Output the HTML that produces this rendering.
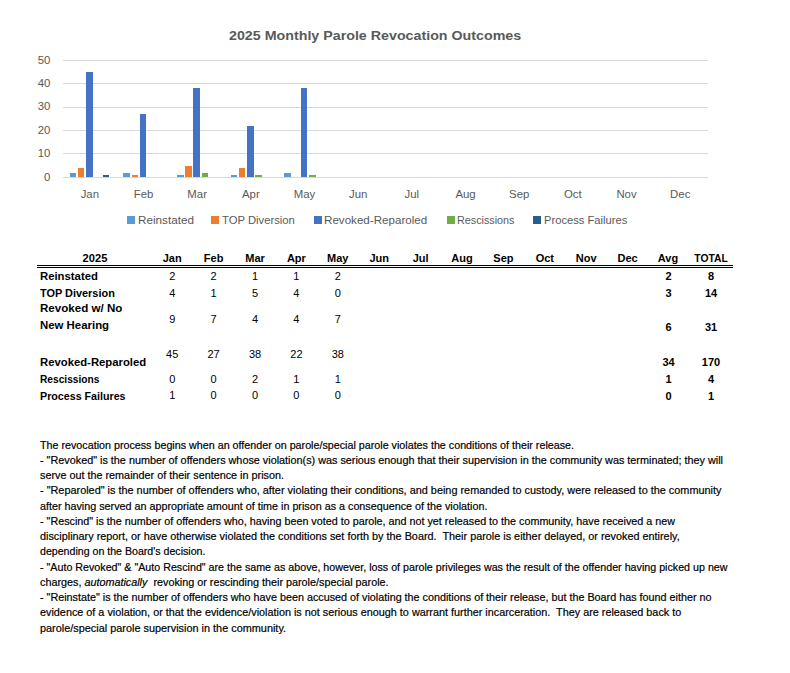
<!DOCTYPE html>
<html><head><meta charset="utf-8"><style>
html,body{margin:0;padding:0;background:#fff;}
body{width:790px;height:673px;position:relative;overflow:hidden;font-family:"Liberation Sans",sans-serif;}
.t{position:absolute;white-space:pre;}
.p{-webkit-text-stroke:0.2px #000;}
.g{position:absolute;height:1px;background:#d9d9d9;}
.b{position:absolute;}
.sq{position:absolute;width:8px;height:8px;}
</style></head><body>

<div class="g" style="left:63px;top:177px;width:645px;"></div>
<div class="g" style="left:63px;top:153px;width:645px;"></div>
<div class="g" style="left:63px;top:130px;width:645px;"></div>
<div class="g" style="left:63px;top:107px;width:645px;"></div>
<div class="g" style="left:63px;top:83px;width:645px;"></div>
<div class="g" style="left:63px;top:60px;width:645px;"></div>
<div class="b" style="left:69.60px;top:172.61px;width:6.6px;height:4.69px;background:#5B9BD5;"></div>
<div class="b" style="left:123.27px;top:172.61px;width:6.6px;height:4.69px;background:#5B9BD5;"></div>
<div class="b" style="left:176.94px;top:174.95px;width:6.6px;height:2.35px;background:#5B9BD5;"></div>
<div class="b" style="left:230.61px;top:174.95px;width:6.6px;height:2.35px;background:#5B9BD5;"></div>
<div class="b" style="left:284.28px;top:172.61px;width:6.6px;height:4.69px;background:#5B9BD5;"></div>
<div class="b" style="left:77.85px;top:167.92px;width:6.6px;height:9.38px;background:#ED7D31;"></div>
<div class="b" style="left:131.52px;top:174.95px;width:6.6px;height:2.35px;background:#ED7D31;"></div>
<div class="b" style="left:185.19px;top:165.57px;width:6.6px;height:11.73px;background:#ED7D31;"></div>
<div class="b" style="left:238.86px;top:167.92px;width:6.6px;height:9.38px;background:#ED7D31;"></div>
<div class="b" style="left:86.10px;top:71.73px;width:6.6px;height:105.57px;background:#4472C4;"></div>
<div class="b" style="left:139.77px;top:113.96px;width:6.6px;height:63.34px;background:#4472C4;"></div>
<div class="b" style="left:193.44px;top:88.15px;width:6.6px;height:89.15px;background:#4472C4;"></div>
<div class="b" style="left:247.11px;top:125.69px;width:6.6px;height:51.61px;background:#4472C4;"></div>
<div class="b" style="left:300.78px;top:88.15px;width:6.6px;height:89.15px;background:#4472C4;"></div>
<div class="b" style="left:201.69px;top:172.61px;width:6.6px;height:4.69px;background:#70AD47;"></div>
<div class="b" style="left:255.36px;top:174.95px;width:6.6px;height:2.35px;background:#70AD47;"></div>
<div class="b" style="left:309.03px;top:174.95px;width:6.6px;height:2.35px;background:#70AD47;"></div>
<div class="b" style="left:102.60px;top:174.95px;width:6.6px;height:2.35px;background:#255E91;"></div>
<div class="sq" style="left:127px;top:216px;background:#5B9BD5;"></div>
<div class="sq" style="left:211px;top:216px;background:#ED7D31;"></div>
<div class="sq" style="left:314px;top:216px;background:#4472C4;"></div>
<div class="sq" style="left:446.5px;top:216px;background:#70AD47;"></div>
<div class="sq" style="left:533px;top:216px;background:#255E91;"></div>
<div style="position:absolute;left:37px;top:265px;width:696px;height:1px;background:#000"></div>
<div style="position:absolute;left:37px;top:267px;width:696px;height:1px;background:#000"></div>
<div class="t" id="t0" style="left:229.00px;top:29.24px;font-size:13.6px;line-height:13.6px;color:#595959;font-weight:bold;transform:scaleX(1.0482);transform-origin:left top;">2025 Monthly Parole Revocation Outcomes</div>
<div class="t" id="t1" style="right:739.70px;top:171.81px;font-size:11.4px;line-height:11.4px;color:#595959;">0</div>
<div class="t" id="t2" style="right:739.70px;top:148.35px;font-size:11.4px;line-height:11.4px;color:#595959;">10</div>
<div class="t" id="t3" style="right:739.70px;top:124.89px;font-size:11.4px;line-height:11.4px;color:#595959;">20</div>
<div class="t" id="t4" style="right:739.70px;top:101.43px;font-size:11.4px;line-height:11.4px;color:#595959;">30</div>
<div class="t" id="t5" style="right:739.70px;top:77.97px;font-size:11.4px;line-height:11.4px;color:#595959;">40</div>
<div class="t" id="t6" style="right:739.70px;top:54.51px;font-size:11.4px;line-height:11.4px;color:#595959;">50</div>
<div class="t" id="t7" style="left:89.84px;top:189.21px;font-size:11.4px;line-height:11.4px;color:#595959;transform:translateX(-50%) ;transform-origin:50% 0;">Jan</div>
<div class="t" id="t8" style="left:143.50px;top:189.21px;font-size:11.4px;line-height:11.4px;color:#595959;transform:translateX(-50%) ;transform-origin:50% 0;">Feb</div>
<div class="t" id="t9" style="left:197.18px;top:189.21px;font-size:11.4px;line-height:11.4px;color:#595959;transform:translateX(-50%) ;transform-origin:50% 0;">Mar</div>
<div class="t" id="t10" style="left:250.84px;top:189.21px;font-size:11.4px;line-height:11.4px;color:#595959;transform:translateX(-50%) ;transform-origin:50% 0;">Apr</div>
<div class="t" id="t11" style="left:304.51px;top:189.21px;font-size:11.4px;line-height:11.4px;color:#595959;transform:translateX(-50%) ;transform-origin:50% 0;">May</div>
<div class="t" id="t12" style="left:358.19px;top:189.21px;font-size:11.4px;line-height:11.4px;color:#595959;transform:translateX(-50%) ;transform-origin:50% 0;">Jun</div>
<div class="t" id="t13" style="left:411.86px;top:189.21px;font-size:11.4px;line-height:11.4px;color:#595959;transform:translateX(-50%) ;transform-origin:50% 0;">Jul</div>
<div class="t" id="t14" style="left:465.53px;top:189.21px;font-size:11.4px;line-height:11.4px;color:#595959;transform:translateX(-50%) ;transform-origin:50% 0;">Aug</div>
<div class="t" id="t15" style="left:519.19px;top:189.21px;font-size:11.4px;line-height:11.4px;color:#595959;transform:translateX(-50%) ;transform-origin:50% 0;">Sep</div>
<div class="t" id="t16" style="left:572.87px;top:189.21px;font-size:11.4px;line-height:11.4px;color:#595959;transform:translateX(-50%) ;transform-origin:50% 0;">Oct</div>
<div class="t" id="t17" style="left:626.53px;top:189.21px;font-size:11.4px;line-height:11.4px;color:#595959;transform:translateX(-50%) ;transform-origin:50% 0;">Nov</div>
<div class="t" id="t18" style="left:680.21px;top:189.21px;font-size:11.4px;line-height:11.4px;color:#595959;transform:translateX(-50%) ;transform-origin:50% 0;">Dec</div>
<div class="t" id="t19" style="left:137.50px;top:214.61px;font-size:11.4px;line-height:11.4px;color:#595959;transform:scaleX(1.0283);transform-origin:left top;">Reinstated</div>
<div class="t" id="t20" style="left:221.50px;top:214.61px;font-size:11.4px;line-height:11.4px;color:#595959;transform:scaleX(0.9890);transform-origin:left top;">TOP Diversion</div>
<div class="t" id="t21" style="left:324.30px;top:214.61px;font-size:11.4px;line-height:11.4px;color:#595959;transform:scaleX(1.0190);transform-origin:left top;">Revoked-Reparoled</div>
<div class="t" id="t22" style="left:457.00px;top:214.61px;font-size:11.4px;line-height:11.4px;color:#595959;transform:scaleX(0.9450);transform-origin:left top;">Rescissions</div>
<div class="t" id="t23" style="left:543.50px;top:214.61px;font-size:11.4px;line-height:11.4px;color:#595959;transform:scaleX(0.9821);transform-origin:left top;">Process Failures</div>
<div class="t" id="t24" style="left:94.50px;top:252.65px;font-size:11px;line-height:11px;color:#000;font-weight:bold;transform:translateX(-50%) scaleX(1.0120);transform-origin:50% 0;">2025</div>
<div class="t" id="t25" style="left:172.20px;top:252.65px;font-size:11px;line-height:11px;color:#000;font-weight:bold;transform:translateX(-50%) ;transform-origin:50% 0;">Jan</div>
<div class="t" id="t26" style="left:213.60px;top:252.65px;font-size:11px;line-height:11px;color:#000;font-weight:bold;transform:translateX(-50%) ;transform-origin:50% 0;">Feb</div>
<div class="t" id="t27" style="left:255.00px;top:252.65px;font-size:11px;line-height:11px;color:#000;font-weight:bold;transform:translateX(-50%) ;transform-origin:50% 0;">Mar</div>
<div class="t" id="t28" style="left:296.40px;top:252.65px;font-size:11px;line-height:11px;color:#000;font-weight:bold;transform:translateX(-50%) ;transform-origin:50% 0;">Apr</div>
<div class="t" id="t29" style="left:337.80px;top:252.65px;font-size:11px;line-height:11px;color:#000;font-weight:bold;transform:translateX(-50%) ;transform-origin:50% 0;">May</div>
<div class="t" id="t30" style="left:379.20px;top:252.65px;font-size:11px;line-height:11px;color:#000;font-weight:bold;transform:translateX(-50%) ;transform-origin:50% 0;">Jun</div>
<div class="t" id="t31" style="left:420.60px;top:252.65px;font-size:11px;line-height:11px;color:#000;font-weight:bold;transform:translateX(-50%) ;transform-origin:50% 0;">Jul</div>
<div class="t" id="t32" style="left:462.00px;top:252.65px;font-size:11px;line-height:11px;color:#000;font-weight:bold;transform:translateX(-50%) ;transform-origin:50% 0;">Aug</div>
<div class="t" id="t33" style="left:503.40px;top:252.65px;font-size:11px;line-height:11px;color:#000;font-weight:bold;transform:translateX(-50%) ;transform-origin:50% 0;">Sep</div>
<div class="t" id="t34" style="left:544.80px;top:252.65px;font-size:11px;line-height:11px;color:#000;font-weight:bold;transform:translateX(-50%) ;transform-origin:50% 0;">Oct</div>
<div class="t" id="t35" style="left:586.20px;top:252.65px;font-size:11px;line-height:11px;color:#000;font-weight:bold;transform:translateX(-50%) ;transform-origin:50% 0;">Nov</div>
<div class="t" id="t36" style="left:627.60px;top:252.65px;font-size:11px;line-height:11px;color:#000;font-weight:bold;transform:translateX(-50%) ;transform-origin:50% 0;">Dec</div>
<div class="t" id="t37" style="left:668.00px;top:252.65px;font-size:11px;line-height:11px;color:#000;font-weight:bold;transform:translateX(-50%) scaleX(0.9950);transform-origin:50% 0;">Avg</div>
<div class="t" id="t38" style="left:710.80px;top:252.65px;font-size:11px;line-height:11px;color:#000;font-weight:bold;transform:translateX(-50%) scaleX(0.9361);transform-origin:50% 0;">TOTAL</div>
<div class="t" id="t39" style="left:40.40px;top:270.65px;font-size:11px;line-height:11px;color:#000;font-weight:bold;transform:scaleX(1.0291);transform-origin:left top;">Reinstated</div>
<div class="t" id="t40" style="left:40.40px;top:287.65px;font-size:11px;line-height:11px;color:#000;font-weight:bold;transform:scaleX(0.9920);transform-origin:left top;">TOP Diversion</div>
<div class="t" id="t41" style="left:40.40px;top:303.45px;font-size:11px;line-height:11px;color:#000;font-weight:bold;transform:scaleX(1.0526);transform-origin:left top;">Revoked w/ No</div>
<div class="t" id="t42" style="left:40.40px;top:320.25px;font-size:11px;line-height:11px;color:#000;font-weight:bold;transform:scaleX(1.0364);transform-origin:left top;">New Hearing</div>
<div class="t" id="t43" style="left:40.40px;top:356.95px;font-size:11px;line-height:11px;color:#000;font-weight:bold;transform:scaleX(1.0275);transform-origin:left top;">Revoked-Reparoled</div>
<div class="t" id="t44" style="left:40.40px;top:374.25px;font-size:11px;line-height:11px;color:#000;font-weight:bold;transform:scaleX(0.9266);transform-origin:left top;">Rescissions</div>
<div class="t" id="t45" style="left:40.40px;top:390.85px;font-size:11px;line-height:11px;color:#000;font-weight:bold;transform:scaleX(0.9713);transform-origin:left top;">Process Failures</div>
<div class="t" id="t46" style="left:172.20px;top:270.95px;font-size:11px;line-height:11px;color:#000;transform:translateX(-50%) ;transform-origin:50% 0;">2</div>
<div class="t" id="t47" style="left:213.60px;top:270.95px;font-size:11px;line-height:11px;color:#000;transform:translateX(-50%) ;transform-origin:50% 0;">2</div>
<div class="t" id="t48" style="left:255.00px;top:270.95px;font-size:11px;line-height:11px;color:#000;transform:translateX(-50%) ;transform-origin:50% 0;">1</div>
<div class="t" id="t49" style="left:296.40px;top:270.95px;font-size:11px;line-height:11px;color:#000;transform:translateX(-50%) ;transform-origin:50% 0;">1</div>
<div class="t" id="t50" style="left:337.80px;top:270.95px;font-size:11px;line-height:11px;color:#000;transform:translateX(-50%) ;transform-origin:50% 0;">2</div>
<div class="t" id="t51" style="left:668.60px;top:270.95px;font-size:11px;line-height:11px;color:#000;font-weight:bold;transform:translateX(-50%) ;transform-origin:50% 0;">2</div>
<div class="t" id="t52" style="left:711.00px;top:270.95px;font-size:11px;line-height:11px;color:#000;font-weight:bold;transform:translateX(-50%) ;transform-origin:50% 0;">8</div>
<div class="t" id="t53" style="left:172.20px;top:287.65px;font-size:11px;line-height:11px;color:#000;transform:translateX(-50%) ;transform-origin:50% 0;">4</div>
<div class="t" id="t54" style="left:213.60px;top:287.65px;font-size:11px;line-height:11px;color:#000;transform:translateX(-50%) ;transform-origin:50% 0;">1</div>
<div class="t" id="t55" style="left:255.00px;top:287.65px;font-size:11px;line-height:11px;color:#000;transform:translateX(-50%) ;transform-origin:50% 0;">5</div>
<div class="t" id="t56" style="left:296.40px;top:287.65px;font-size:11px;line-height:11px;color:#000;transform:translateX(-50%) ;transform-origin:50% 0;">4</div>
<div class="t" id="t57" style="left:337.80px;top:287.65px;font-size:11px;line-height:11px;color:#000;transform:translateX(-50%) ;transform-origin:50% 0;">0</div>
<div class="t" id="t58" style="left:668.60px;top:287.65px;font-size:11px;line-height:11px;color:#000;font-weight:bold;transform:translateX(-50%) ;transform-origin:50% 0;">3</div>
<div class="t" id="t59" style="left:711.00px;top:287.65px;font-size:11px;line-height:11px;color:#000;font-weight:bold;transform:translateX(-50%) ;transform-origin:50% 0;">14</div>
<div class="t" id="t60" style="left:172.20px;top:313.55px;font-size:11px;line-height:11px;color:#000;transform:translateX(-50%) ;transform-origin:50% 0;">9</div>
<div class="t" id="t61" style="left:213.60px;top:313.55px;font-size:11px;line-height:11px;color:#000;transform:translateX(-50%) ;transform-origin:50% 0;">7</div>
<div class="t" id="t62" style="left:255.00px;top:313.55px;font-size:11px;line-height:11px;color:#000;transform:translateX(-50%) ;transform-origin:50% 0;">4</div>
<div class="t" id="t63" style="left:296.40px;top:313.55px;font-size:11px;line-height:11px;color:#000;transform:translateX(-50%) ;transform-origin:50% 0;">4</div>
<div class="t" id="t64" style="left:337.80px;top:313.55px;font-size:11px;line-height:11px;color:#000;transform:translateX(-50%) ;transform-origin:50% 0;">7</div>
<div class="t" id="t65" style="left:668.60px;top:321.65px;font-size:11px;line-height:11px;color:#000;font-weight:bold;transform:translateX(-50%) ;transform-origin:50% 0;">6</div>
<div class="t" id="t66" style="left:711.00px;top:321.65px;font-size:11px;line-height:11px;color:#000;font-weight:bold;transform:translateX(-50%) ;transform-origin:50% 0;">31</div>
<div class="t" id="t67" style="left:172.20px;top:348.65px;font-size:11px;line-height:11px;color:#000;transform:translateX(-50%) ;transform-origin:50% 0;">45</div>
<div class="t" id="t68" style="left:213.60px;top:348.65px;font-size:11px;line-height:11px;color:#000;transform:translateX(-50%) ;transform-origin:50% 0;">27</div>
<div class="t" id="t69" style="left:255.00px;top:348.65px;font-size:11px;line-height:11px;color:#000;transform:translateX(-50%) ;transform-origin:50% 0;">38</div>
<div class="t" id="t70" style="left:296.40px;top:348.65px;font-size:11px;line-height:11px;color:#000;transform:translateX(-50%) ;transform-origin:50% 0;">22</div>
<div class="t" id="t71" style="left:337.80px;top:348.65px;font-size:11px;line-height:11px;color:#000;transform:translateX(-50%) ;transform-origin:50% 0;">38</div>
<div class="t" id="t72" style="left:668.60px;top:357.05px;font-size:11px;line-height:11px;color:#000;font-weight:bold;transform:translateX(-50%) ;transform-origin:50% 0;">34</div>
<div class="t" id="t73" style="left:711.00px;top:357.05px;font-size:11px;line-height:11px;color:#000;font-weight:bold;transform:translateX(-50%) ;transform-origin:50% 0;">170</div>
<div class="t" id="t74" style="left:172.20px;top:373.65px;font-size:11px;line-height:11px;color:#000;transform:translateX(-50%) ;transform-origin:50% 0;">0</div>
<div class="t" id="t75" style="left:213.60px;top:373.65px;font-size:11px;line-height:11px;color:#000;transform:translateX(-50%) ;transform-origin:50% 0;">0</div>
<div class="t" id="t76" style="left:255.00px;top:373.65px;font-size:11px;line-height:11px;color:#000;transform:translateX(-50%) ;transform-origin:50% 0;">2</div>
<div class="t" id="t77" style="left:296.40px;top:373.65px;font-size:11px;line-height:11px;color:#000;transform:translateX(-50%) ;transform-origin:50% 0;">1</div>
<div class="t" id="t78" style="left:337.80px;top:373.65px;font-size:11px;line-height:11px;color:#000;transform:translateX(-50%) ;transform-origin:50% 0;">1</div>
<div class="t" id="t79" style="left:668.60px;top:374.25px;font-size:11px;line-height:11px;color:#000;font-weight:bold;transform:translateX(-50%) ;transform-origin:50% 0;">1</div>
<div class="t" id="t80" style="left:711.00px;top:374.25px;font-size:11px;line-height:11px;color:#000;font-weight:bold;transform:translateX(-50%) ;transform-origin:50% 0;">4</div>
<div class="t" id="t81" style="left:172.20px;top:390.35px;font-size:11px;line-height:11px;color:#000;transform:translateX(-50%) ;transform-origin:50% 0;">1</div>
<div class="t" id="t82" style="left:213.60px;top:390.35px;font-size:11px;line-height:11px;color:#000;transform:translateX(-50%) ;transform-origin:50% 0;">0</div>
<div class="t" id="t83" style="left:255.00px;top:390.35px;font-size:11px;line-height:11px;color:#000;transform:translateX(-50%) ;transform-origin:50% 0;">0</div>
<div class="t" id="t84" style="left:296.40px;top:390.35px;font-size:11px;line-height:11px;color:#000;transform:translateX(-50%) ;transform-origin:50% 0;">0</div>
<div class="t" id="t85" style="left:337.80px;top:390.35px;font-size:11px;line-height:11px;color:#000;transform:translateX(-50%) ;transform-origin:50% 0;">0</div>
<div class="t" id="t86" style="left:668.60px;top:390.95px;font-size:11px;line-height:11px;color:#000;font-weight:bold;transform:translateX(-50%) ;transform-origin:50% 0;">0</div>
<div class="t" id="t87" style="left:711.00px;top:390.95px;font-size:11px;line-height:11px;color:#000;font-weight:bold;transform:translateX(-50%) ;transform-origin:50% 0;">1</div>
<div class="t p" id="t88" style="left:40.10px;top:439.58px;font-size:11.2px;line-height:11.2px;color:#000;transform:scaleX(0.9587);transform-origin:left top;">The revocation process begins when an offender on parole/special parole violates the conditions of their release.</div>
<div class="t p" id="t89" style="left:40.10px;top:454.84px;font-size:11.2px;line-height:11.2px;color:#000;transform:scaleX(0.9673);transform-origin:left top;">- "Revoked" is the number of offenders whose violation(s) was serious enough that their supervision in the community was terminated; they will</div>
<div class="t p" id="t90" style="left:40.10px;top:470.10px;font-size:11.2px;line-height:11.2px;color:#000;transform:scaleX(0.9663);transform-origin:left top;">serve out the remainder of their sentence in prison.</div>
<div class="t p" id="t91" style="left:40.10px;top:485.36px;font-size:11.2px;line-height:11.2px;color:#000;transform:scaleX(0.9722);transform-origin:left top;">- "Reparoled" is the number of offenders who, after violating their conditions, and being remanded to custody, were released to the community</div>
<div class="t p" id="t92" style="left:40.10px;top:500.62px;font-size:11.2px;line-height:11.2px;color:#000;transform:scaleX(0.9617);transform-origin:left top;">after having served an appropriate amount of time in prison as a consequence of the violation.</div>
<div class="t p" id="t93" style="left:40.10px;top:515.88px;font-size:11.2px;line-height:11.2px;color:#000;transform:scaleX(0.9623);transform-origin:left top;">- "Rescind" is the number of offenders who, having been voted to parole, and not yet released to the community, have received a new</div>
<div class="t p" id="t94" style="left:40.10px;top:531.14px;font-size:11.2px;line-height:11.2px;color:#000;transform:scaleX(0.9692);transform-origin:left top;">disciplinary report, or have otherwise violated the conditions set forth by the Board.  Their parole is either delayed, or revoked entirely,</div>
<div class="t p" id="t95" style="left:40.10px;top:546.40px;font-size:11.2px;line-height:11.2px;color:#000;transform:scaleX(0.9483);transform-origin:left top;">depending on the Board's decision.</div>
<div class="t p" id="t96" style="left:40.10px;top:561.66px;font-size:11.2px;line-height:11.2px;color:#000;transform:scaleX(0.9562);transform-origin:left top;">- "Auto Revoked" &amp; "Auto Rescind" are the same as above, however, loss of parole privileges was the result of the offender having picked up new</div>
<div class="t p" id="t97" style="left:40.10px;top:576.92px;font-size:11.2px;line-height:11.2px;color:#000;transform:scaleX(0.9648);transform-origin:left top;">charges, <i>automatically</i>  revoking or rescinding their parole/special parole.</div>
<div class="t p" id="t98" style="left:40.10px;top:592.18px;font-size:11.2px;line-height:11.2px;color:#000;transform:scaleX(0.9636);transform-origin:left top;">- "Reinstate" is the number of offenders who have been accused of violating the conditions of their release, but the Board has found either no</div>
<div class="t p" id="t99" style="left:40.10px;top:607.44px;font-size:11.2px;line-height:11.2px;color:#000;transform:scaleX(0.9676);transform-origin:left top;">evidence of a violation, or that the evidence/violation is not serious enough to warrant further incarceration.  They are released back to</div>
<div class="t p" id="t100" style="left:40.10px;top:622.70px;font-size:11.2px;line-height:11.2px;color:#000;transform:scaleX(0.9730);transform-origin:left top;">parole/special parole supervision in the community.</div>
</body></html>
